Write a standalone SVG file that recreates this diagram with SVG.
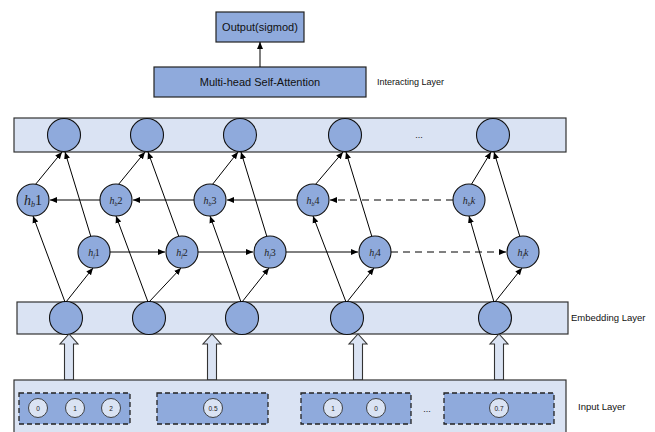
<svg xmlns="http://www.w3.org/2000/svg" width="655" height="432" viewBox="0 0 655 432">
<defs>
<marker id="ah" markerWidth="8" markerHeight="8" refX="7" refY="4" orient="auto" markerUnits="userSpaceOnUse">
<path d="M0,1 L7,4 L0,7 Z" fill="#000"/>
</marker>
<style>
.layer{fill:#DAE3F3;stroke:#333;stroke-width:1.2}
.box{fill:#8FAADC;stroke:#222;stroke-width:1.2}
.node{fill:#8FAADC;stroke:#111;stroke-width:1.1}
.dbox{fill:#8FAADC;stroke:#222;stroke-width:1.3;stroke-dasharray:5,3}
.sc{fill:#DAE3F3;stroke:#333;stroke-width:0.9}
.ln{stroke:#000;stroke-width:1;fill:none;marker-end:url(#ah)}
.dl{stroke:#000;stroke-width:1;fill:none;stroke-dasharray:7,5;marker-end:url(#ah)}
.hol{fill:#DAE3F3;stroke:#333;stroke-width:1.1}
.t{font-family:"Liberation Sans",Arial,sans-serif;fill:#111}
.h{font-family:"Liberation Serif","Times New Roman",serif;font-style:italic;fill:#222;font-size:10px}
.big{font-size:14px}
.st{font-size:6px}
.up{font-style:normal}
.n{font-family:"Liberation Sans",Arial,sans-serif;font-size:6.5px;fill:#222;text-anchor:middle}
</style>
</defs>

<g id="output">
<rect class="box" x="216" y="12" width="88" height="30"/>
<text class="t" x="260" y="31" font-size="11" text-anchor="middle">Output(sigmod)</text>
</g>
<g id="attention">
<rect class="box" x="154" y="67" width="212" height="30"/>
<text class="t" x="260" y="86" font-size="11" text-anchor="middle">Multi-head Self-Attention</text>
</g>
<text class="t" x="377" y="85" font-size="9">Interacting Layer</text>

<g id="top-layer">
<rect class="layer" x="14" y="118" width="552" height="34"/>
<circle class="node" cx="64" cy="135" r="16.5"/>
<circle class="node" cx="147" cy="135" r="16.5"/>
<circle class="node" cx="240" cy="135" r="16.5"/>
<circle class="node" cx="345" cy="135" r="16.5"/>
<circle class="node" cx="493" cy="135" r="16.5"/>
<text class="t" x="419" y="138" font-size="9" text-anchor="middle" fill="#444">...</text>
</g>

<g id="embedding-layer">
<rect class="layer" x="17" y="302" width="551" height="32"/>
<circle class="node" cx="66" cy="318" r="16.5"/>
<circle class="node" cx="149" cy="318" r="16.5"/>
<circle class="node" cx="242" cy="318" r="16.5"/>
<circle class="node" cx="347" cy="318" r="16.5"/>
<circle class="node" cx="495" cy="318" r="16.5"/>
</g>
<text class="t" x="571" y="321" font-size="9.5">Embedding Layer</text>

<g id="connectors">
<line class="ln" x1="260" y1="67" x2="260" y2="42"/>
<line class="ln" x1="65" y1="302" x2="33" y2="216"/>
<line class="ln" x1="66" y1="302" x2="93" y2="268"/>
<line class="ln" x1="148" y1="302" x2="116" y2="216"/>
<line class="ln" x1="149" y1="302" x2="181" y2="268"/>
<line class="ln" x1="241" y1="302" x2="210" y2="216"/>
<line class="ln" x1="242" y1="302" x2="269" y2="268"/>
<line class="ln" x1="346" y1="302" x2="313" y2="216"/>
<line class="ln" x1="347" y1="302" x2="374" y2="268"/>
<line class="ln" x1="494" y1="302" x2="469" y2="216"/>
<line class="ln" x1="495" y1="302" x2="522" y2="268"/>
<line class="ln" x1="35" y1="185" x2="62" y2="152"/>
<line class="ln" x1="91" y1="237" x2="65" y2="152"/>
<line class="ln" x1="118" y1="185" x2="145" y2="152"/>
<line class="ln" x1="179" y1="237" x2="148" y2="152"/>
<line class="ln" x1="212" y1="185" x2="238" y2="152"/>
<line class="ln" x1="267" y1="237" x2="241" y2="152"/>
<line class="ln" x1="315" y1="185" x2="343" y2="152"/>
<line class="ln" x1="372" y1="237" x2="346" y2="152"/>
<line class="ln" x1="471" y1="185" x2="491" y2="152"/>
<line class="ln" x1="520" y1="237" x2="494" y2="152"/>
<line class="ln" x1="100" y1="200" x2="50" y2="200"/>
<line class="ln" x1="194" y1="200" x2="133" y2="200"/>
<line class="ln" x1="297" y1="200" x2="227" y2="200"/>
<line class="dl" x1="453" y1="200" x2="330" y2="200"/>
<line class="ln" x1="110" y1="252" x2="165" y2="252"/>
<line class="ln" x1="198" y1="252" x2="253" y2="252"/>
<line class="ln" x1="286" y1="252" x2="358" y2="252"/>
<line class="dl" x1="391" y1="252" x2="506" y2="252"/>
<polygon class="hol" points="64.5,380 64.5,344 60,344 69,334 78,344 73.5,344 73.5,380"/>
<polygon class="hol" points="207.5,380 207.5,344 203,344 212,334 221,344 216.5,344 216.5,380"/>
<polygon class="hol" points="353.5,380 353.5,344 349,344 358,334 367,344 362.5,344 362.5,380"/>
<polygon class="hol" points="494.5,380 494.5,344 490,344 499,334 508,344 503.5,344 503.5,380"/>
</g>

<g id="hb1"><circle class="node" cx="33" cy="200" r="16"/><text class="h big" x="33" y="205" text-anchor="middle">h<tspan style="font-size:8px" dy="2">b</tspan><tspan class="up" dy="-2">1</tspan></text></g>
<g id="hb2"><circle class="node" cx="116" cy="200" r="16"/><text class="h" x="116" y="204" text-anchor="middle">h<tspan class="st" dy="2">b</tspan><tspan class="up" dy="-2">2</tspan></text></g>
<g id="hb3"><circle class="node" cx="210" cy="200" r="16"/><text class="h" x="210" y="204" text-anchor="middle">h<tspan class="st" dy="2">b</tspan><tspan class="up" dy="-2">3</tspan></text></g>
<g id="hb4"><circle class="node" cx="313" cy="200" r="16"/><text class="h" x="313" y="204" text-anchor="middle">h<tspan class="st" dy="2">b</tspan><tspan class="up" dy="-2">4</tspan></text></g>
<g id="hbk"><circle class="node" cx="469" cy="200" r="16"/><text class="h" x="469" y="204" text-anchor="middle">h<tspan class="st" dy="2">b</tspan><tspan dy="-2">k</tspan></text></g>
<g id="hf1"><circle class="node" cx="94" cy="252" r="16"/><text class="h" x="94" y="256" text-anchor="middle">h<tspan class="st" dy="2">f</tspan><tspan class="up" dy="-2">1</tspan></text></g>
<g id="hf2"><circle class="node" cx="182" cy="252" r="16"/><text class="h" x="182" y="256" text-anchor="middle">h<tspan class="st" dy="2">f</tspan><tspan class="up" dy="-2">2</tspan></text></g>
<g id="hf3"><circle class="node" cx="270" cy="252" r="16"/><text class="h" x="270" y="256" text-anchor="middle">h<tspan class="st" dy="2">f</tspan><tspan class="up" dy="-2">3</tspan></text></g>
<g id="hf4"><circle class="node" cx="375" cy="252" r="16"/><text class="h" x="375" y="256" text-anchor="middle">h<tspan class="st" dy="2">f</tspan><tspan class="up" dy="-2">4</tspan></text></g>
<g id="hfk"><circle class="node" cx="523" cy="252" r="16"/><text class="h" x="523" y="256" text-anchor="middle">h<tspan class="st" dy="2">f</tspan><tspan dy="-2">k</tspan></text></g>

<g id="input-layer">
<rect class="layer" x="14" y="380" width="552" height="60"/>
<g id="field1">
<rect class="dbox" x="19" y="393" width="111" height="31"/>
<circle class="sc" cx="38" cy="408" r="9.5"/><text class="n" x="38" y="410.5">0</text>
<circle class="sc" cx="75" cy="408" r="9.5"/><text class="n" x="75" y="410.5">1</text>
<circle class="sc" cx="111" cy="408" r="9.5"/><text class="n" x="111" y="410.5">2</text>
</g>
<g id="field2">
<rect class="dbox" x="157" y="393" width="111" height="31"/>
<circle class="sc" cx="213" cy="408" r="9.5"/><text class="n" x="213" y="410.5">0.5</text>
</g>
<g id="field3">
<rect class="dbox" x="301" y="393" width="110" height="31"/>
<circle class="sc" cx="333" cy="408" r="9.5"/><text class="n" x="333" y="410.5">1</text>
<circle class="sc" cx="376" cy="408" r="9.5"/><text class="n" x="376" y="410.5">0</text>
</g>
<text class="t" x="427" y="412" font-size="9" text-anchor="middle" fill="#444">...</text>
<g id="field4">
<rect class="dbox" x="444" y="393" width="110" height="31"/>
<circle class="sc" cx="499" cy="408" r="9.5"/><text class="n" x="499" y="410.5">0.7</text>
</g>
</g>
<text class="t" x="578" y="410" font-size="9.5">Input Layer</text>
</svg>
